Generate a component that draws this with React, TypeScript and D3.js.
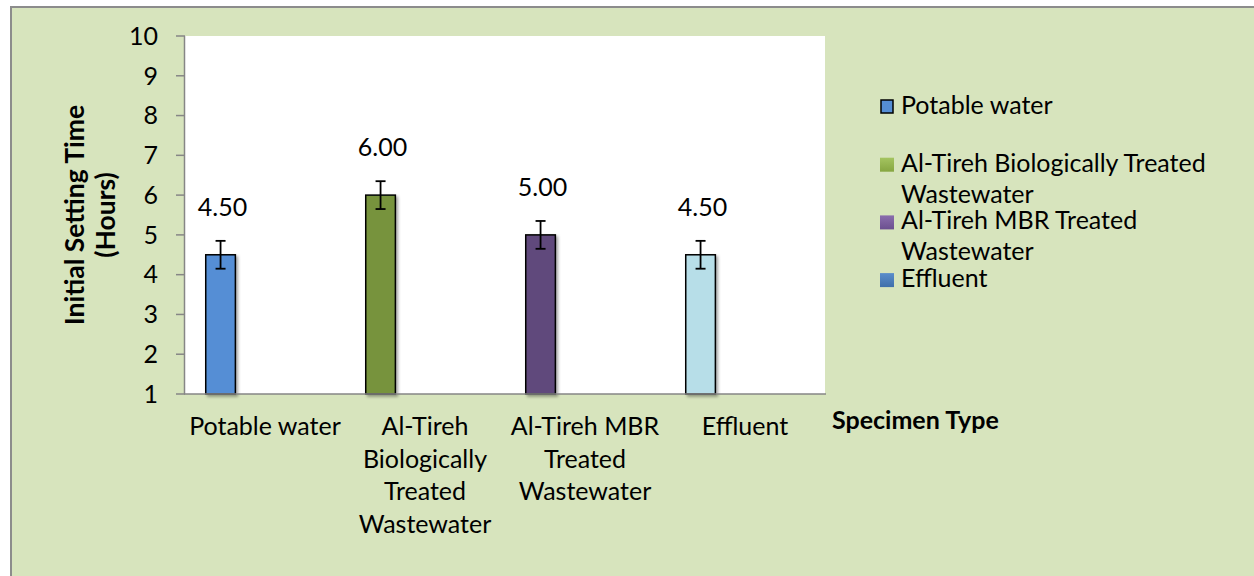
import React from "react";
import * as d3 from "d3";

const categories = ["Potable water", "Al-Tireh Biologically Treated Wastewater", "Al-Tireh MBR Treated Wastewater", "Effluent"];
const categoryLines = [["Potable water"], ["Al-Tireh", "Biologically", "Treated", "Wastewater"], ["Al-Tireh MBR", "Treated", "Wastewater"], ["Effluent"]];
const values = [4.5, 6.0, 5.0, 4.5];
const errors = [0.35, 0.35, 0.35, 0.35];
const barColors = ["#558ED5", "#77933C", "#604A7B", "#B7DEE8"];
const legendLines = [["Potable water"], ["Al-Tireh Biologically Treated", "Wastewater"], ["Al-Tireh MBR Treated", "Wastewater"], ["Effluent"]];
const legendColors = [["#5B93D8", "#4A80C8"], ["#A4C460", "#86A641"], ["#8A6DAD", "#6B4F8F"], ["#5A8DCB", "#3F6FAA"]];
const yTicks = [1, 2, 3, 4, 5, 6, 7, 8, 9, 10];

const W = 1254, H = 576;
const FONT = "Lato, 'Open Sans', sans-serif";
const FS = 25;

export default function App() {
  const plot = { left: 185, right: 825, top: 36, bottom: 394 };
  const x = d3.scaleBand<string>().domain(categories).range([plot.left, plot.right]).padding(0);
  const inner = d3.scaleBand<number>().domain([0, 1, 2, 3]).range([0, x.bandwidth()]).paddingInner(0).paddingOuter(0.7);
  const y = d3.scaleLinear().domain([1, 10]).range([plot.bottom, plot.top]);
  const bw = inner.bandwidth();
  const capW = 10;

  return (
    <svg width={W} height={H} style={{ position: "absolute", left: 0, top: 0 }} fontFamily={FONT}>
      <defs>
        <filter id="sh" x="-20%" y="-20%" width="150%" height="150%">
          <feDropShadow dx="2" dy="2" stdDeviation="1.5" floodColor="#000" floodOpacity="0.35" />
        </filter>
        {legendColors.map((c, i) => (
          <linearGradient key={i} id={`lg${i}`} x1="0" y1="0" x2="0" y2="1">
            <stop offset="0" stopColor={c[0]} />
            <stop offset="1" stopColor={c[1]} />
          </linearGradient>
        ))}
      </defs>
      <rect x={0} y={0} width={W} height={H} fill="#ffffff" />
      <rect x={11} y={7} width={W + 20} height={H + 20} fill="#D7E4BD" stroke="#8C8C8C" strokeWidth={2} />
      <rect x={plot.left} y={plot.top} width={plot.right - plot.left} height={plot.bottom - plot.top} fill="#ffffff" />

      {/* bars */}
      {categories.map((c, i) => {
        const bx = (x(c) as number) + (inner(0) as number);
        return (
          <rect key={c} x={bx} y={y(values[i])} width={bw} height={y(1) - y(values[i])}
            fill={barColors[i]} stroke="#000" strokeWidth={1.5} filter="url(#sh)" />
        );
      })}

      {/* axes */}
      <line x1={plot.left - 0.5} x2={plot.left - 0.5} y1={plot.top} y2={plot.bottom} stroke="#868686" strokeWidth={1.5} />
      <line x1={plot.left - 1} x2={plot.right + 1} y1={plot.bottom} y2={plot.bottom} stroke="#868686" strokeWidth={1.5} />
      {yTicks.map((t) => (
        <g key={t}>
          <line x1={plot.left - 9} x2={plot.left} y1={y(t)} y2={y(t)} stroke="#868686" strokeWidth={1.5} />
          <text x={158} y={y(t)} dy="0.35em" textAnchor="end" fontSize={FS} fill="#000">{t}</text>
        </g>
      ))}

      {/* error bars */}
      {categories.map((c, i) => {
        const cx = (x(c) as number) + (inner(0) as number) + bw / 2;
        const y0 = y(values[i] - errors[i]);
        const y1 = y(values[i] + errors[i]);
        return (
          <g key={c} stroke="#000" strokeWidth={1.8}>
            <line x1={cx} x2={cx} y1={y0} y2={y1} />
            <line x1={cx - capW / 2} x2={cx + capW / 2} y1={y0} y2={y0} />
            <line x1={cx - capW / 2} x2={cx + capW / 2} y1={y1} y2={y1} />
          </g>
        );
      })}

      {/* data labels */}
      {categories.map((c, i) => {
        const cx = (x(c) as number) + (inner(0) as number) + bw / 2 + 2;
        return (
          <text key={c} x={cx} y={y(values[i]) - 39} textAnchor="middle" fontSize={FS} fill="#000">
            {values[i].toFixed(2)}
          </text>
        );
      })}

      {/* category labels */}
      {categories.map((c, i) => {
        const cx = (x(c) as number) + x.bandwidth() / 2;
        return (
          <text key={c} x={cx} y={435} textAnchor="middle" fontSize={FS} fill="#000">
            {categoryLines[i].map((l, j) => (
              <tspan key={j} x={cx} y={435 + j * 32.5}>{l}</tspan>
            ))}
          </text>
        );
      })}

      {/* axis titles */}
      <text x={832} y={429} fontSize={FS} fontWeight="bold" fill="#000">Specimen Type</text>
      <text transform={`translate(84,215) rotate(-90)`} textAnchor="middle" fontSize={26.5} fontWeight="bold" fill="#000">
        <tspan x={0} y={0}>Initial Setting Time</tspan>
        <tspan x={0} y={31}>(Hours)</tspan>
      </text>

      {/* legend */}
      {legendLines.map((lines, i) => {
        const by = 114 + i * 57.7;
        return (
          <g key={i}>
            <rect x={i === 0 ? 881 : 880} y={by - 14} width={i === 0 ? 12 : 14} height={i === 0 ? 13 : 14}
              fill={i === 0 ? "#558ED5" : `url(#lg${i})`} stroke={i === 0 ? "#000" : "none"} strokeWidth={1.5} />
            <text x={901} y={by} fontSize={FS} fill="#000">
              {lines.map((l, j) => (
                <tspan key={j} x={901} y={by + j * 31}>{l}</tspan>
              ))}
            </text>
          </g>
        );
      })}
    </svg>
  );
}
